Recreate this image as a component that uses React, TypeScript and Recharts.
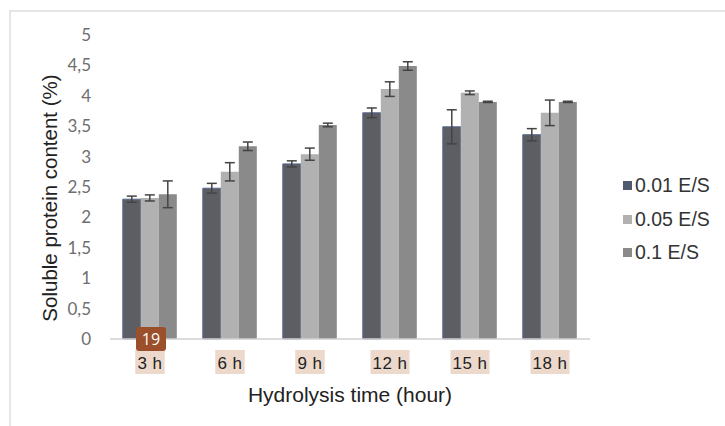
import React from 'react';
import { BarChart, Bar, XAxis, YAxis, Legend, ErrorBar } from 'recharts';

const categories = ['3 h', '6 h', '9 h', '12 h', '15 h', '18 h'];
const es001 = [2.3, 2.48, 2.88, 3.72, 3.49, 3.36];
const es001Err = [0.05, 0.08, 0.05, 0.08, 0.28, 0.1];
const es005 = [2.32, 2.75, 3.04, 4.11, 4.05, 3.72];
const es005Err = [0.05, 0.15, 0.1, 0.12, 0.03, 0.21];
const es01 = [2.38, 3.17, 3.52, 4.49, 3.9, 3.9];
const es01Err = [0.22, 0.07, 0.03, 0.07, 0.01, 0.01];
const yTicks = [0, 0.5, 1, 1.5, 2, 2.5, 3, 3.5, 4, 4.5, 5];
const seriesNames = ['0.01 E/S', '0.05 E/S', '0.1 E/S'];
const seriesColors = ['#5c5e64', '#b1b1b1', '#8a8a8a'];
const legendColors = ['#505a6e', '#b1b1b1', '#8a8a8a'];
const badgeLabel = '19';

const data = categories.map((c, i) => ({
  cat: c,
  a: es001[i],
  aErr: es001Err[i],
  b: es005[i],
  bErr: es005Err[i],
  c: es01[i],
  cErr: es01Err[i],
}));

const XTick = (props: any) => {
  const { x, y, payload, index } = props;
  const label = payload.value as string;
  const w = label.length * 9.5 + 1;
  return (
    <g>
      <rect x={x - w / 2} y={y + 3} width={w} height={24} fill="#ecd9cc" />
      <text x={x} y={y + 22} textAnchor="middle" fontFamily="Liberation Sans, Arial" fontSize={17} letterSpacing={0.5} fill="#222">
        {label}
      </text>
      {index === 0 && (
        <g>
          <rect x={x - 14} y={y - 20} width={30} height={24} rx={3} fill="#9b4f2a" />
          <text x={x + 1} y={y - 2} textAnchor="middle" fontFamily="Open Sans, sans-serif" fontSize={16} fill="#ffffff">
            {badgeLabel}
          </text>
        </g>
      )}
    </g>
  );
};

const LegendContent = () => (
  <div style={{ paddingLeft: 33 }}>
    {seriesNames.map((n, i) => (
      <div key={n} style={{ display: 'flex', alignItems: 'center', height: 33.5, fontFamily: 'Liberation Sans, Arial', fontSize: 19.5, color: '#333', whiteSpace: 'nowrap' }}>
        <span style={{ display: 'inline-block', width: 9, height: 9, background: legendColors[i], marginRight: 3 }} />
        {n}
      </div>
    ))}
  </div>
);

export default function App() {
  return (
    <div style={{ position: 'fixed', left: 0, top: 0, width: 725, height: 426, background: '#fff', overflow: 'hidden' }}>
      <div style={{ position: 'absolute', left: 9, top: 10, right: -10, bottom: -10, borderTop: '2px solid #e6e6e6', borderLeft: '2px solid #e6e6e6' }} />
      <div style={{ position: 'absolute', left: 0, top: 0 }}>
        <BarChart
          width={725}
          height={426}
          data={data}
          margin={{ top: 35, right: 15, bottom: 0, left: 0 }}
          barCategoryGap="16%"
          barGap={0}
        >
          <XAxis
            dataKey="cat"
            height={87}
            axisLine={{ stroke: '#d0d0d0', strokeWidth: 1.5 }}
            tickLine={false}
            tick={<XTick />}
            interval={0}
            label={{ value: 'Hydrolysis time (hour)', position: 'insideBottom', offset: 24, fontFamily: 'Liberation Sans, Arial', fontSize: 21, fill: '#222' }}
          />
          <YAxis
            width={110}
            domain={[0, 5]}
            ticks={yTicks}
            axisLine={false}
            tickLine={false}
            tickMargin={13}
            tickFormatter={(v: number) => String(v).replace('.', ',')}
            tick={{ fontFamily: 'Lato, sans-serif', fontSize: 17, fill: '#6e6e6e' }}
            label={{ value: 'Soluble protein content (%)', angle: -90, position: 'center', dx: -5, dy: 11, fontFamily: 'Liberation Sans, Arial', fontSize: 20.5, fill: '#222' }}
          />
          <Legend
            layout="vertical"
            align="right"
            verticalAlign="middle"
            width={120}
            content={<LegendContent />}
            wrapperStyle={{ top: 169 }}
          />
          <Bar dataKey="a" name={seriesNames[0]} fill={seriesColors[0]} stroke="#56668f" strokeWidth={1} isAnimationActive={false}>
            <ErrorBar dataKey="aErr" width={5} stroke="#444" strokeWidth={1.5} />
          </Bar>
          <Bar dataKey="b" name={seriesNames[1]} fill={seriesColors[1]} isAnimationActive={false}>
            <ErrorBar dataKey="bErr" width={5} stroke="#444" strokeWidth={1.5} />
          </Bar>
          <Bar dataKey="c" name={seriesNames[2]} fill={seriesColors[2]} isAnimationActive={false}>
            <ErrorBar dataKey="cErr" width={5} stroke="#444" strokeWidth={1.5} />
          </Bar>
        </BarChart>
      </div>
    </div>
  );
}
